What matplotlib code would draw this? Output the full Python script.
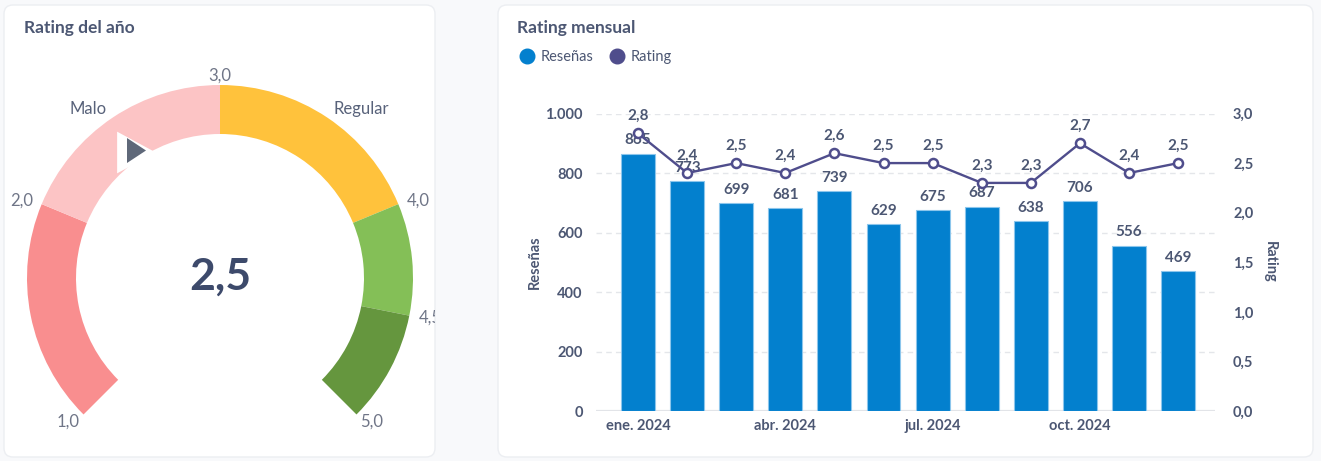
import numpy as np
import matplotlib
matplotlib.use("Agg")
from matplotlib import pyplot as plt
from matplotlib.patches import Wedge, FancyBboxPatch
from matplotlib.lines import Line2D
from matplotlib.ticker import FuncFormatter, MultipleLocator

plt.rcParams['font.family'] = ['Lato', 'DejaVu Sans']

# datos
rating_anual = 2.5
gauge_min, gauge_max = 1, 5
rangos = [(1, 2), (2, 3), (3, 4), (4, 4.5), (4.5, 5)]
colores_rangos = ['#f98e8f', '#fcc4c5', '#ffc23c', '#84bf57', '#65963e']
nombres_rangos = ['', 'Malo', 'Regular', '', '']
ticks_gauge = [1, 2, 3, 4, 4.5, 5]

meses = ['ene. 2024', 'feb. 2024', 'mar. 2024', 'abr. 2024', 'may. 2024', 'jun. 2024',
         'jul. 2024', 'ago. 2024', 'sep. 2024', 'oct. 2024', 'nov. 2024', 'dic. 2024']
resenas = [865, 773, 699, 681, 739, 629, 675, 687, 638, 706, 556, 469]
rating = [2.8, 2.4, 2.5, 2.4, 2.6, 2.5, 2.5, 2.3, 2.3, 2.7, 2.4, 2.5]

W, H = 1321, 461
TXT = '#4c5773'
AZUL = '#0380ce'
MORADO = '#4f4d8c'

fig = plt.figure(figsize=(W / 100, H / 100), dpi=100, facecolor='#f8f9fb')

# fondo y tarjetas
bg = fig.add_axes([0, 0, 1, 1])
bg.set_xlim(0, W)
bg.set_ylim(H, 0)
bg.axis('off')
for x0, x1 in [(4, 435), (498, 1313)]:
    bg.add_patch(FancyBboxPatch((x0, 5), x1 - x0, 452, boxstyle='round,pad=0,rounding_size=9',
                                facecolor='white', edgecolor='#eceef2', lw=1))
bg.text(24, 28.5, 'Rating del año', fontsize=12.5, fontweight='bold', color=TXT, va='center')
bg.text(517, 28.5, 'Rating mensual', fontsize=12.5, fontweight='bold', color=TXT, va='center')

# gauge
cx, cy, R = 220, 278, 193
gx = fig.add_axes([4 / W, 1 - 457 / H, 431 / W, 452 / H])
gx.set_xlim((4 - cx) / R, (435 - cx) / R)
gx.set_ylim((cy - 457) / R, (cy - 5) / R)
gx.axis('off')
gx.patch.set_alpha(0)


def ang(v):
    return 225 - (v - gauge_min) * 270 / (gauge_max - gauge_min)


for (a, b), col in zip(rangos, colores_rangos):
    gx.add_patch(Wedge((0, 0), 1, ang(b), ang(a), width=49 / R, facecolor=col, edgecolor='none'))

for v in ticks_gauge:
    t = np.radians(ang(v))
    gx.text(1.11 * np.cos(t), 1.05 * np.sin(t), f'{v:.1f}'.replace('.', ','), fontsize=12,
            color='#6f7587', ha='center', va='center', clip_on=True)

for (a, b), nombre in zip(rangos, nombres_rangos):
    if nombre:
        t = np.radians(ang((a + b) / 2))
        gx.text(1.055 * np.cos(t), 1.055 * np.sin(t), nombre, fontsize=12, color='#58627a',
                ha='right' if np.cos(t) < 0 else 'left', va='center')

t = np.radians(ang(rating_anual))
px, py = 0.788 * np.cos(t), 0.788 * np.sin(t)
gx.plot(px, py, marker=[(-0.93, 1), (0.93, 0), (-0.93, -1)], markersize=30,
        color='white', markeredgewidth=0)
gx.plot(px, py + 0.006, marker=[(-0.76, 1), (0.76, 0), (-0.76, -1)], markersize=18,
        color='#5f6879', markeredgewidth=0)

gx.text(0, (cy - 290) / R, f'{rating_anual:.1f}'.replace('.', ','), fontsize=32,
        fontweight='bold', color='#3d4a6b', ha='center', va='baseline')

# barras + linea
ax = fig.add_axes([596 / W, 1 - 411 / H, 619 / W, 297.5 / H])
ax.patch.set_alpha(0)
x = np.arange(len(meses))
ax.bar(x, resenas, width=0.69, color=AZUL, edgecolor='#8cc6ec', linewidth=0.8, zorder=2)
ax.set_xlim(-0.855, 11.75)
ax.set_ylim(0, 1000)
ax.yaxis.set_major_locator(MultipleLocator(200))
ax.yaxis.set_major_formatter(FuncFormatter(lambda v, p: f'{int(v):,}'.replace(',', '.')))
ax.grid(axis='y', color='#e4e6ea', linestyle=(0, (4, 3)), lw=1, zorder=0)
ax.axhline(0, color='#e2e4e8', lw=1.6, zorder=1)
for s in ax.spines.values():
    s.set_visible(False)
ax.set_xticks(x[::3])
ax.set_xticklabels(meses[::3])
ax.tick_params(axis='both', length=0, labelsize=10.5, labelcolor=TXT)
ax.tick_params(axis='y', pad=9.5)
ax.tick_params(axis='x', pad=6)
for lbl in ax.get_xticklabels() + ax.get_yticklabels():
    lbl.set_fontweight('bold')
ax.set_ylabel('Reseñas', fontsize=10.5, fontweight='bold', color=TXT)
ax.yaxis.set_label_coords(-0.088, 0.5)
for xi, v in zip(x, resenas):
    ax.annotate(str(v), (xi, v), xytext=(0, 9.5), textcoords='offset points', ha='center',
                va='center', fontsize=11, fontweight='bold', color=TXT, zorder=4)

ax2 = ax.twinx()
ax2.set_ylim(0, 3)
ax2.set_xlim(ax.get_xlim())
ax2.yaxis.set_major_locator(MultipleLocator(0.5))
ax2.yaxis.set_major_formatter(FuncFormatter(lambda v, p: f'{v:.1f}'.replace('.', ',')))
for s in ax2.spines.values():
    s.set_visible(False)
ax2.tick_params(axis='y', length=0, labelsize=10.5, labelcolor=TXT, pad=13)
for lbl in ax2.get_yticklabels():
    lbl.set_fontweight('bold')
ax2.plot(x, rating, color=MORADO, lw=1.7, marker='o', markersize=6.5, markerfacecolor='white',
         markeredgecolor=MORADO, markeredgewidth=1.8, zorder=5)
for xi, v in zip(x, rating):
    ax2.annotate(f'{v:.1f}'.replace('.', ','), (xi, v), xytext=(0, 12.5), textcoords='offset points',
                 ha='center', va='center', fontsize=11, fontweight='bold', color=TXT, zorder=4)
ax2.set_ylabel('Rating', fontsize=10.5, fontweight='bold', color=TXT, rotation=-90)
ax2.yaxis.set_label_coords(1.1, 0.5)

handles = [Line2D([], [], ls='none', marker='o', markersize=10.5, color=AZUL, label='Reseñas'),
           Line2D([], [], ls='none', marker='o', markersize=10.5, color=MORADO, label='Rating')]
leg = ax.legend(handles=handles, ncol=2, frameon=False, loc='center left',
                bbox_to_anchor=(521 / W, 1 - 57 / H), bbox_transform=fig.transFigure,
                handlelength=0.8, handletextpad=0.55, columnspacing=1.2, borderaxespad=0,
                borderpad=0, fontsize=10.5)
for t_ in leg.get_texts():
    t_.set_color(TXT)

fig.savefig('out.png', dpi=100, facecolor=fig.get_facecolor())
